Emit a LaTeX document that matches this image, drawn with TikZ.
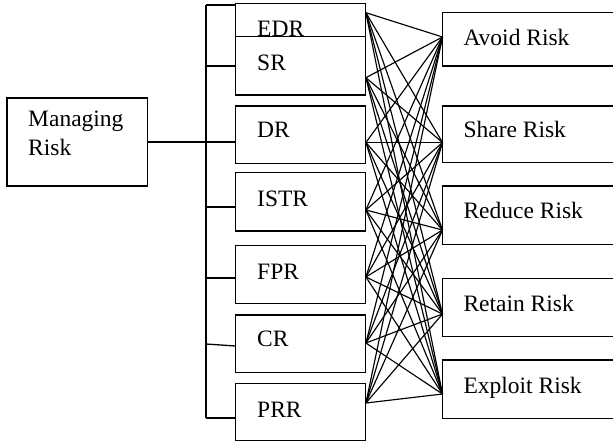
\documentclass[tikz,border=0pt]{standalone}
\usepackage{fontspec}
\setmainfont{Liberation Serif}
\tikzset{
  box/.style={draw, line width=1.3pt, inner sep=0pt},
  lbl/.style={anchor=base west, inner sep=0pt, font=\fontsize{23.5}{28}\selectfont},
  link/.style={line width=1.15pt},
  tree/.style={line width=1.3pt},
}
% draws a named box from its corners: name, left, top, right, bottom
\newcommand{\rbox}[5]{\path[box] (#2,#3) rectangle (#4,#5);
  \node[inner sep=0pt, minimum width={(#4-#2)*1pt}, minimum height={(#5-#3)*1pt}] (#1) at ({(#2+#4)/2},{(#3+#5)/2}) {};}
\begin{document}
\begin{tikzpicture}[x=1pt,y=-1pt]
\useasboundingbox (0,0) rectangle (613,445);
\clip (0,0) rectangle (613,445);

% root box
\rbox{MR}{7}{98}{147.3}{186}
\node[lbl] (MRt) at (28,126.7) {Managing};
\node[lbl] (MRt2) at (28,155) {Risk};

% risk categories
\rbox{EDR}{235.7}{3.5}{365.7}{36.7}
\rbox{SR}{235.7}{36.7}{365.7}{95}
\rbox{DR}{235.7}{106}{365.7}{163.3}
\rbox{ISTR}{235.7}{172.7}{365.7}{231}
\rbox{FPR}{235.7}{245.7}{365.7}{303.3}
\rbox{CR}{235.7}{315}{365.7}{372.3}
\rbox{PRR}{235.7}{383.3}{365.7}{440.7}
\node[lbl] (EDRt) at (257,36) {EDR};
\node[lbl] (SRt) at (257,70) {SR};
\node[lbl] (DRt) at (257,137) {DR};
\node[lbl] (ISTRt) at (257,206) {ISTR};
\node[lbl] (FPRt) at (257,279) {FPR};
\node[lbl] (CRt) at (257,346.7) {CR};
\node[lbl] (PRRt) at (257,417) {PRR};

% responses
\rbox{AV}{442.7}{12.3}{640}{66}
\rbox{SH}{442.7}{106}{640}{162.7}
\rbox{RD}{442.7}{186}{640}{244.3}
\rbox{RT}{442.7}{278.3}{640}{336.7}
\rbox{EX}{442.7}{360}{640}{418.3}
\node[lbl] (AVt) at (463.3,45) {Avoid Risk};
\node[lbl] (SHt) at (463.3,137.3) {Share Risk};
\node[lbl] (RDt) at (463.3,218) {Reduce Risk};
\node[lbl] (RTt) at (463.3,311) {Retain Risk};
\node[lbl] (EXt) at (463.3,393) {Exploit Risk};

% bracket joining the root to the categories
\coordinate (bTop) at (206,5);
\coordinate (bBot) at (206,418);
\draw[tree] (bTop) -- (bBot);
\draw[tree] (bTop) -- (bTop -| EDR.west);
\draw[tree] (206,66) -- (0,66 -| SR.west);
\draw[tree] (MR.east |- 0,142) -- (0,142 -| DR.west);
\draw[tree] (206,207) -- (0,207 -| ISTR.west);
\draw[tree] (206,278) -- (0,278 -| FPR.west);
\draw[tree] (206,344) -- (0,346 -| CR.west);
\draw[tree] (bBot) -- (bBot -| PRR.west);

% ports on the category boxes
\coordinate (pEDR) at (EDR.east |- 0,12.7);
\coordinate (pSR) at (SR.east |- 0,77.7);
\coordinate (pDR) at (DR.east |- 0,142.5);
\coordinate (pISTR) at (ISTR.east |- 0,210);
\coordinate (pFPR) at (FPR.east |- 0,277);
\coordinate (pCR) at (CR.east |- 0,343);
\coordinate (pPRR) at (PRR.east |- 0,403);
% ports on the response boxes
\coordinate (pAV) at (AV.west |- 0,37);
\coordinate (pSH) at (SH.west |- 0,142.5);
\coordinate (pRD) at (RD.west |- 0,230);
\coordinate (pRT) at (RT.west |- 0,314);
\coordinate (pEX) at (EX.west |- 0,394);

% every category linked to every response
\foreach \a in {EDR,SR,DR,ISTR,FPR,CR,PRR}
  \foreach \b in {AV,SH,RD,RT,EX}
    \draw[link] (p\a) -- (p\b);
\end{tikzpicture}
\end{document}
